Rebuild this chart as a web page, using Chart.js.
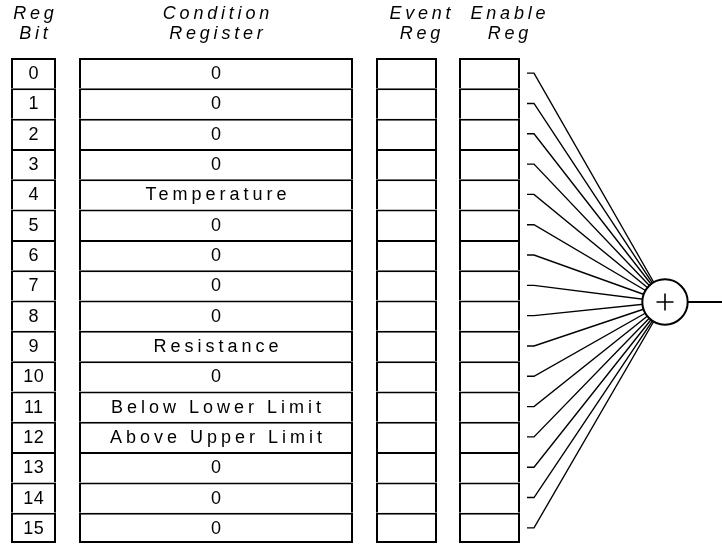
<!DOCTYPE html>
<html>
<head>
<meta charset="utf-8">
<title>Status register</title>
<script src="https://cdn.jsdelivr.net/npm/chart.js@4.4.1/dist/chart.umd.min.js"></script>
<style>
  html, body { margin: 0; padding: 0; background: #fff; }
  #wrap { width: 722px; height: 545px; position: relative; }
</style>
</head>
<body>
<div id="wrap"><canvas id="regChart"></canvas></div>
<script>
// Data
const BITS = ['0', '1', '2', '3', '4', '5', '6', '7', '8', '9', '10', '11', '12', '13', '14', '15'];
const CONDITIONS = ['0', '0', '0', '0', 'Temperature', '0', '0', '0', '0', 'Resistance', '0',
    'Below Lower Limit', 'Above Upper Limit', '0', '0', '0'];
const EVENT_REG = BITS.map(() => '');
const ENABLE_REG = BITS.map(() => '');
const HEADERS = [['Reg', 'Bit'], ['Condition', 'Register'], ['Event', 'Reg'], ['Enable', 'Reg']];

// Layout: x scale runs in canvas pixels, y scale in register rows
const COLUMNS = [
    { span: [11, 56], labels: BITS, headerX: 33.5, spacing: 0.5 },
    { span: [79, 353], labels: CONDITIONS, headerX: 216, spacing: 4 },
    { span: [376, 437], labels: EVENT_REG, headerX: 420, spacing: 4 },
    { span: [459, 520], labels: ENABLE_REG, headerX: 508, spacing: 4 }
];
const TICK = [527, 534];            // short stub to the right of the enable register
const SUM = { x: 665, y: 7.55, r: 22.7 };
const OUT_END = 722;
const FONT = '"Liberation Sans", Arial, sans-serif';

// Register columns as floating horizontal bars
const columnSets = COLUMNS.map(col => ({
    type: 'bar',
    data: col.labels.map((_, i) => ({ x: col.span, y: i })),
    cellLabels: col.labels,
    cellSpacing: col.spacing,
    backgroundColor: '#fff',
    borderColor: '#000',
    borderWidth: (c) => ({ top: 2, left: 2, right: 2, bottom: c.dataIndex === BITS.length - 1 ? 2 : 0 }),
    borderSkipped: false,
    inflateAmount: 0,
    grouped: false,
    barPercentage: 1,
    categoryPercentage: 1,
    order: 3
}));

// Fan of lines into the summing node
const fanSets = BITS.map((_, i) => ({
    type: 'line',
    data: [{ x: TICK[0], y: i }, { x: TICK[1], y: i }, { x: SUM.x, y: SUM.y }],
    borderColor: '#000',
    borderWidth: 1.4,
    pointRadius: 0,
    tension: 0,
    clip: false,
    order: 2
}));

const outSet = {
    type: 'line',
    data: [{ x: SUM.x + SUM.r, y: SUM.y }, { x: OUT_END, y: SUM.y }],
    borderColor: '#000',
    borderWidth: 2,
    pointRadius: 0,
    clip: false,
    order: 2
};

const nodeSet = {
    type: 'line',
    data: [{ x: SUM.x, y: SUM.y }],
    showLine: false,
    pointRadius: SUM.r,
    pointBackgroundColor: '#fff',
    pointBorderColor: '#000',
    pointBorderWidth: 2,
    clip: false,
    order: 1
};

const plusSet = {
    type: 'line',
    data: [{ x: SUM.x, y: SUM.y }],
    showLine: false,
    pointStyle: 'cross',
    pointRadius: 8.5,
    pointBorderColor: '#000',
    pointBorderWidth: 1.6,
    clip: false,
    order: 0
};

// Text in the cells and column headers
const textPlugin = {
    id: 'registerText',
    afterDatasetsDraw(chart) {
        const ctx = chart.ctx;
        ctx.save();
        ctx.fillStyle = '#000';
        ctx.textAlign = 'center';

        ctx.font = '18px ' + FONT;
        ctx.textBaseline = 'middle';
        chart.data.datasets.forEach((ds, di) => {
            if (!ds.cellLabels) return;
            ctx.letterSpacing = ds.cellSpacing + 'px';
            chart.getDatasetMeta(di).data.forEach((bar, i) => {
                const p = bar.getCenterPoint();
                ctx.fillText(ds.cellLabels[i], p.x + ds.cellSpacing / 2, p.y + 1);
            });
        });

        const headSpacing = 3.8;
        ctx.font = 'italic 18px ' + FONT;
        ctx.letterSpacing = headSpacing + 'px';
        ctx.textBaseline = 'alphabetic';
        const xScale = chart.scales.x;
        COLUMNS.forEach((col, ci) => {
            const x = xScale.getPixelForValue(col.headerX) + headSpacing / 2;
            ctx.fillText(HEADERS[ci][0], x, 19);
            ctx.fillText(HEADERS[ci][1], x, 39);
        });
        ctx.restore();
    }
};

new Chart(document.getElementById('regChart'), {
    type: 'bar',
    data: { datasets: [...columnSets, ...fanSets, outSet, nodeSet, plusSet] },
    options: {
        indexAxis: 'y',
        responsive: true,
        maintainAspectRatio: false,
        animation: false,
        events: [],
        layout: { autoPadding: false, padding: { top: 58, bottom: 2, left: 0, right: 0 } },
        plugins: { legend: { display: false }, tooltip: { enabled: false } },
        scales: {
            x: { type: 'linear', min: 0, max: 722, display: false, offset: false },
            y: {
                type: 'linear', min: -0.5, max: 15.5, reverse: true, display: false, offset: false,
                grid: { offset: false },
                ticks: { stepSize: 1, includeBounds: false }
            }
        }
    },
    plugins: [textPlugin]
});
</script>
</body>
</html>
